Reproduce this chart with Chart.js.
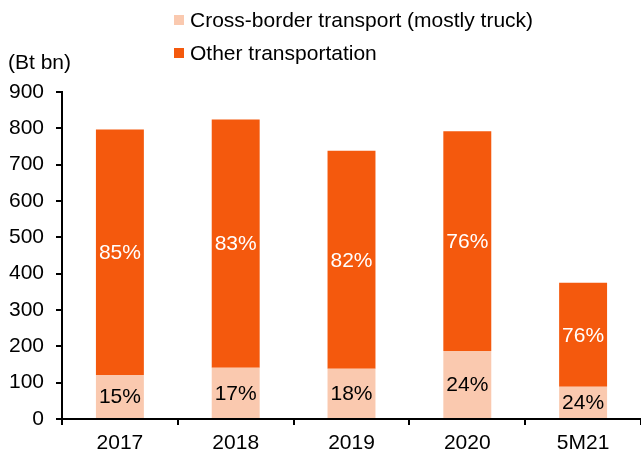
<!DOCTYPE html>
<html>
<head>
<meta charset="utf-8">
<script src="https://cdn.jsdelivr.net/npm/chart.js@4"></script>
<style>
  html, body { margin: 0; padding: 0; background: #fff; }
  #wrap { position: relative; width: 641px; height: 457px; }
</style>
</head>
<body>
<div id="wrap"><canvas id="chart" width="641" height="457"></canvas></div>
<script>
// values (Bt bn)
const categories = ["2017", "2018", "2019", "2020", "5M21"];
const crossBorder = [121, 141, 138, 187, 89];
const otherTransport = [676, 683, 600, 605, 286];
const crossLabels = ["15%", "17%", "18%", "24%", "24%"];
const otherLabels = ["85%", "83%", "82%", "76%", "76%"];
const legendNames = ["Cross-border transport (mostly truck)", "Other transportation"];

const PEACH = "#FAC9AF";
const ORANGE = "#F4590D";
const FONT = "'Liberation Sans', Arial, sans-serif";

// percent labels in the middle of each segment
const segLabels = {
    id: "segLabels",
    afterDatasetsDraw(chart) {
        const ctx = chart.ctx;
        ctx.save();
        ctx.font = "21px " + FONT;
        ctx.textAlign = "center";
        ctx.textBaseline = "middle";
        chart.data.datasets.forEach(function(ds, i) {
            const meta = chart.getDatasetMeta(i);
            meta.data.forEach(function(bar, j) {
                ctx.fillStyle = ds.labelColor;
                ctx.fillText(ds.pctLabels[j], bar.x, (bar.y + bar.base) / 2 + 1);
            });
        });
        ctx.restore();
    }
};

// stacked legend + unit title at the top
const topText = {
    id: "topText",
    afterDraw(chart) {
        const ctx = chart.ctx;
        ctx.save();
        ctx.textBaseline = "middle";
        ctx.textAlign = "left";
        ctx.font = "21px " + FONT;
        const rows = [20, 53];
        chart.data.datasets.forEach(function(ds, i) {
            ctx.fillStyle = ds.backgroundColor;
            ctx.fillRect(174, rows[i] - 5, 10, 10);
            ctx.fillStyle = "#000";
            ctx.fillText(legendNames[i], 190, rows[i] + 1);
        });
        ctx.fillText("(Bt bn)", 8, 63);
        ctx.restore();
    }
};

const chart = new Chart(document.getElementById("chart"), {
    type: "bar",
    data: {
        labels: categories,
        datasets: [
            {
                label: legendNames[0],
                data: crossBorder,
                backgroundColor: PEACH,
                pctLabels: crossLabels,
                labelColor: "#000"
            },
            {
                label: legendNames[1],
                data: otherTransport,
                backgroundColor: ORANGE,
                pctLabels: otherLabels,
                labelColor: "#fff"
            }
        ]
    },
    options: {
        responsive: false,
        animation: false,
        layout: { padding: { top: 92, right: 0, bottom: 0, left: 0 } },
        datasets: { bar: { categoryPercentage: 1, barPercentage: 0.414 } },
        plugins: {
            legend: { display: false },
            tooltip: { enabled: false }
        },
        scales: {
            x: {
                stacked: true,
                offset: true,
                afterFit: function(scale) { scale.height = 38; },
                grid: { display: true, drawOnChartArea: false, offset: true, tickLength: 6, color: "#000", lineWidth: 2 },
                border: { color: "#000", width: 2 },
                ticks: { color: "#000", font: { family: FONT, size: 21 }, padding: 6 }
            },
            y: {
                stacked: true,
                min: 0,
                max: 900,
                afterFit: function(scale) { scale.width = 62; },
                grid: { display: true, drawOnChartArea: false, tickLength: 6, color: "#000", lineWidth: 2 },
                border: { color: "#000", width: 2 },
                ticks: { stepSize: 100, color: "#000", font: { family: FONT, size: 21 }, padding: 12 }
            }
        }
    },
    plugins: [segLabels, topText]
});
</script>
</body>
</html>
